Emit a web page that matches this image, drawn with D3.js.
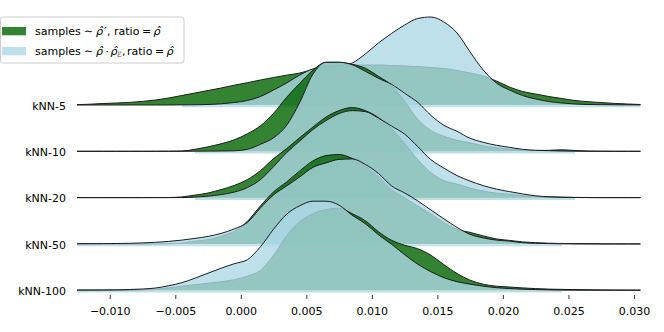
<!DOCTYPE html>
<html><head><meta charset="utf-8">
<script src="https://cdn.jsdelivr.net/npm/d3@7"></script>
<style>body{margin:0;background:#fff}svg{display:block}</style>
</head><body><svg id="c" width="664" height="332"></svg>
<script>
// ---- data ----
const categories = ["kNN-5", "kNN-10", "kNN-20", "kNN-50", "kNN-100"];
const xGrid = [-0.0125,-0.0115,-0.0105,-0.0095,-0.0085,-0.0075,-0.0065,-0.0055,-0.0045,-0.0035,-0.0025,-0.0015,-0.0005,0.0005,0.0015,0.0025,0.0035,0.0045,0.0055,0.0065,0.0075,0.0085,0.0095,0.0105,0.0115,0.0125,0.0135,0.0145,0.0155,0.0165,0.0175,0.0185,0.0195,0.0205,0.0215,0.0225,0.0235,0.0245,0.0255,0.0265,0.0275,0.0285,0.0295,0.0305];
const tickValues = [-0.010,-0.005,0.000,0.005,0.010,0.015,0.020,0.025,0.030];

// density (relative) of samples ~ rho' (green)
const greenKNN5   = [0.3,0.8,1.5,2,2.6,3.6,5,7,9.5,12,14.5,17,19.8,22.3,25,27.5,29.8,32,35.5,38,39.5,40,40,40,39.5,39,38.5,37.5,36.5,34.5,32,29,24,18,13.5,11,8.5,6.5,4.5,3.3,2.4,1.6,1,0.5];
const greenKNN10  = [0,0,0,0,0,0,0.05,0.1,0.3,2,4.5,7.5,11.5,17.5,25.5,38,54,68,81,89,89,87,83,75,66,50,32,21,15,11,8.5,5.5,3.5,2.2,1.2,0.8,1,1.5,0.8,0.3,0.1,0,0,0];
const greenKNN20  = [0,0,0,0,0,0,0.05,0.1,0.7,2.5,4.6,8,12.2,18,27,39,49,60,70.5,80.5,87,90,87,80,69,54,38,25,17,13.5,9.5,6.5,4.5,3.3,2,1.2,0.7,0.4,0.2,0.1,0,0,0,0];
const greenKNN50  = [0,0,0,0,0,0,0.1,0.2,0.8,2.8,4.3,7.8,12.5,22.5,38,52,62,73,83,88.3,89.4,85.5,78,67,54,46,38,30,21.5,14.5,11.5,8,5,3.5,2,1.2,0.7,0.4,0.2,0.1,0,0,0,0];
const greenKNN100 = [0.1,0.1,0.1,0.1,0.2,0.5,1,2.5,4,5.5,7,8.5,10.5,14,20,35,54.5,68.5,76.5,80.5,82,76.5,69.5,58.5,50,45,41.5,35,25.5,16.7,10,6,4,3.2,2.3,1.6,1.1,0.8,0.6,0.4,0.3,0.2,0.1,0.1];

// density (relative) of samples ~ rho * rho_E (light blue)
const blueKNN5   = [0,0,0,0,0,0,0,0,0.1,0.2,0.5,1.2,2.5,4.5,8.5,15,22,30,36,38,39,42,51,62,71.5,80,86.5,88,83,72,53,35,22,15,9.5,6,3.5,2,1,0.5,0.3,0.2,0.1,0.1];
const blueKNN10  = [0,0,0,0,0,0,0,0,0,0.1,0.2,0.3,0.5,2,7,13.5,26,49,77,89,89,86.5,80,73,67,58,49,36,26,20,13,9,6,4,2,1,0.6,0.3,0.1,0,0,0,0,0];
const blueKNN20  = [0,0,0,0,0,0,0,0,0,0.5,1.5,3,5.5,10,18,31,45,56.5,68,77,84,87,86,79.5,71.5,63.5,51,38,29.5,22,16.5,12,8.5,6,3.7,1.8,0.8,0.3,0.1,0,0,0,0,0];
const blueKNN50  = [0.2,0.2,0.3,0.4,0.6,1,1.6,2.5,3.8,5.5,7.5,10.5,15,21.5,36,49,58,67,76.5,81,84.5,85,79.5,70.5,58,51,43,34,25,16.5,9.5,6,3.8,2.8,1.2,0.6,0.3,0.1,0,0,0,0,0,0];
const blueKNN100 = [0.1,0.1,0.2,0.3,0.7,1.2,2.2,4.5,7.5,12,17,22,26.5,30.5,43.5,61,76,84.5,89,89,85,75,66.5,55.5,46,35.5,26,18.5,12.5,8.5,6,4,2.5,1.7,1,0.6,0.3,0.1,0,0,0,0,0,0];

const greenRows = [greenKNN5, greenKNN10, greenKNN20, greenKNN50, greenKNN100];
const blueRows  = [blueKNN5, blueKNN10, blueKNN20, blueKNN50, blueKNN100];

// ---- drawing ----
const svg = d3.select("#c");
const FONT = "'DejaVu Sans', sans-serif";
const x = d3.scaleLinear().domain([-0.0125, 0.0305]).range([77, 640.5]);
const rowY = d3.scalePoint().domain(categories).range([105, 290.2]);
const h = d3.scaleLinear().domain([0, 100]).range([0, 100]);

const GREEN = "rgba(0,100,0,0.8)";
const BLUE = "rgba(173,216,230,0.8)";
const LINE = "#1c1c1c";

categories.forEach((cat, i) => {
  const base = rowY(cat);
  const g = svg.append("g");
  const area = d3.area().curve(d3.curveMonotoneX)
    .x((d, j) => x(xGrid[j])).y0(base).y1(d => base - h(d));
  const line = d3.line().curve(d3.curveMonotoneX)
    .x((d, j) => x(xGrid[j])).y(d => base - h(d));
  g.append("path").attr("d", area(greenRows[i])).attr("fill", GREEN);
  g.append("path").attr("d", line(greenRows[i])).attr("fill", "none").attr("stroke", LINE).attr("stroke-width", 1);
  g.append("path").attr("d", area(blueRows[i])).attr("fill", BLUE);
  const band = d3.line().defined(d => d > 0.05).x((d, j) => x(xGrid[j])).y(base + 1.3);
  g.append("path").attr("d", band(blueRows[i])).attr("fill", "none").attr("stroke", BLUE).attr("stroke-width", 2);
  g.append("path").attr("d", line(blueRows[i])).attr("fill", "none").attr("stroke", LINE).attr("stroke-width", 1);
  svg.append("text").attr("x", 66).attr("y", base + 1).attr("dy", "0.35em")
    .attr("text-anchor", "end").attr("font-family", FONT).attr("font-size", 11)
    .attr("fill", "#000").text(cat);
});

// x axis
const axis = d3.axisBottom(x).tickValues(tickValues).tickSize(4).tickPadding(8)
  .tickFormat(d3.format(".3f"));
const ax = svg.append("g").attr("transform", "translate(0,295)").call(axis);
ax.select(".domain").remove();
ax.selectAll(".tick line").attr("stroke", "#000").attr("stroke-width", 0.8);
ax.selectAll(".tick text").attr("font-family", FONT).attr("font-size", 11).attr("fill", "#000");

// legend
const lg = svg.append("g");
lg.append("rect").attr("x", 0.5).attr("y", 17).attr("width", 183.5).attr("height", 46)
  .attr("rx", 3).attr("fill", "rgba(255,255,255,0.8)").attr("stroke", "#cccccc").attr("stroke-width", 1);
[GREEN, BLUE].forEach((c, k) => {
  lg.append("rect").attr("x", 2).attr("y", 27 + k * 20).attr("width", 24).attr("height", 8.3).attr("fill", c);
});
const legendParts = [
  [{t: "samples", x: 35}, {t: "∼", x: 84}, {t: "ρ̂", x: 96, it: true}, {t: "′", x: 104}, {t: ",", x: 107},
   {t: "ratio", x: 114}, {t: "=", x: 142}, {t: "ρ̂", x: 153.5, it: true}],
  [{t: "samples", x: 35}, {t: "∼", x: 84}, {t: "ρ̂", x: 96, it: true}, {t: "·", x: 105.5}, {t: "ρ̂", x: 110.5, it: true},
   {t: "ℰ", x: 117, sub: true, it: true}, {t: ",", x: 122, up: true}, {t: "ratio", x: 127}, {t: "=", x: 155}, {t: "ρ̂", x: 166.5, it: true}]
];
legendParts.forEach((parts, k) => {
  const t = lg.append("text").attr("y", 34.5 + k * 20).attr("font-family", FONT).attr("font-size", 11).attr("fill", "#000");
  parts.forEach(p => {
    const s = t.append("tspan").attr("x", p.x).text(p.t);
    if (p.it) s.attr("font-style", "italic");
    if (p.sub) s.attr("font-size", 7.5).attr("dy", 2);
    if (p.up) s.attr("dy", -2);
  });
});
</script></body></html>
